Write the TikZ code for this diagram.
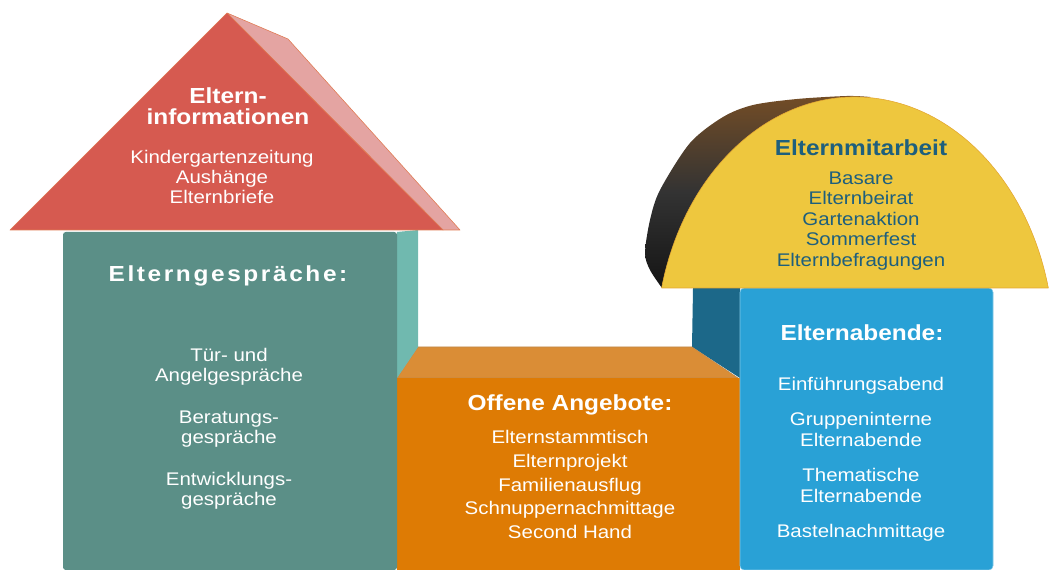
\documentclass[tikz,border=0pt]{standalone}
\usepackage{fontspec}
\setmainfont{Liberation Sans}[FakeStretch=1.12]
\newfontfamily\widefont{Liberation Sans}[FakeStretch=1.12,LetterSpace=12]
\definecolor{roofred}{HTML}{D65A50}
\definecolor{roofside}{HTML}{E4A4A2}
\definecolor{roofedge}{HTML}{E07A52}
\definecolor{talkgreen}{HTML}{5B8F87}
\definecolor{talkside}{HTML}{70B9AF}
\definecolor{opentop}{HTML}{DA8D36}
\definecolor{openfront}{HTML}{DE7B04}
\definecolor{eveside}{HTML}{1C6889}
\definecolor{evefront}{HTML}{29A1D6}
\definecolor{helpyellow}{HTML}{EEC73E}
\definecolor{helpedge}{HTML}{E3A631}
\definecolor{helptext}{HTML}{1E5F7D}
\tikzstyle{title} = [text=white, font=\fontsize{15.5}{15}\selectfont\bfseries, align=center, inner sep=0pt]
\tikzstyle{items} = [text=white, font=\fontsize{13}{14.2}\selectfont, align=center, inner sep=0pt]
\tikzstyle{face} = [line width=0.4pt, line join=round]

\begin{document}
\begin{tikzpicture}[x=0.025cm, y=0.025cm]
\useasboundingbox (0,0) rectangle (1049,570);

% ------------------------- shapes -------------------------

% ----- blue block, side
\fill[eveside] (693,282) -- (740,282) -- (740,192) -- (692,223) -- cycle;
% ----- orange block
\filldraw[face, fill=opentop, draw=opentop!70!gray] (397,192) -- (418,223) -- (692,223) -- (738,192) -- cycle;
\fill[openfront] (397,0) rectangle (740,192);
% ----- green block
\fill[talkside] (397,338) -- (418,340) -- (418,223) -- (397,192) -- cycle;
\fill[talkgreen, rounded corners=2] (63,0) rectangle (397,338);
% ----- roof
\filldraw[face, fill=roofside, draw=roofedge] (227,557) -- (288,531) -- (460,340) -- (443,340) -- cycle;
\filldraw[face, fill=roofred, draw=roofedge] (227,557) -- (443,340) -- (10,340) -- cycle;
% ----- blue block, front
\filldraw[face, fill=evefront, draw=evefront!60!white, rounded corners=3] (740,0) rectangle (993,282);
% ----- dome
\shade[top color=brown!60!black, bottom color=black!92, middle color=black!80]
  plot[smooth] coordinates {(662,282) (650,300) (645,317) (650,350) (660,380) (690,427)
  (723,453) (753,465) (797,471) (847,474) (870,473)} -- cycle;
\filldraw[face, fill=helpyellow, draw=helpedge] (661.6,282) arc[start angle=166.35, end angle=13.65, x radius=199, y radius=250] -- cycle;

% ------------------------- nodes -------------------------

% ----- node: 0
\node(0)[title] at (228,464) {Eltern-\\informationen};
% ----- node: 1
\node(1)[items] at (222,393) {Kindergartenzeitung\\Aushänge\\Elternbriefe};
% ----- node: 2
\node(2)[title, font=\fontsize{15.5}{15}\selectfont\widefont\bfseries] at (228,294) {Elterngespräche:};
% ----- node: 3
\node(3)[items] at (229,141.5) {Tür- und\\Angelgespräche\\[0.55cm]Beratungs-\\gespräche\\[0.55cm]Entwicklungs-\\gespräche};
% ----- node: 4
\node(4)[title] at (570,165) {Offene Angebote:};
% ----- node: 5
\node(5)[items, font=\fontsize{13}{16.8}\selectfont] at (570,85.5) {Elternstammtisch\\Elternprojekt\\Familienausflug\\Schnuppernachmittage\\Second Hand};
% ----- node: 6
\node(6)[title] at (862,237) {Elternabende:};
% ----- node: 7
\node(7)[items, font=\fontsize{13}{14.9}\selectfont] at (861,111) {Einführungsabend\\[0.35cm]Gruppeninterne\\Elternabende\\[0.35cm]Thematische\\Elternabende\\[0.35cm]Bastelnachmittage};
% ----- node: 8
\node(8)[title, text=helptext] at (861,422) {Elternmitarbeit};
% ----- node: 9
\node(9)[items, text=helptext, font=\fontsize{13}{14.6}\selectfont] at (861,349) {Basare\\Elternbeirat\\Gartenaktion\\Sommerfest\\Elternbefragungen};

\end{tikzpicture}
\end{document}
